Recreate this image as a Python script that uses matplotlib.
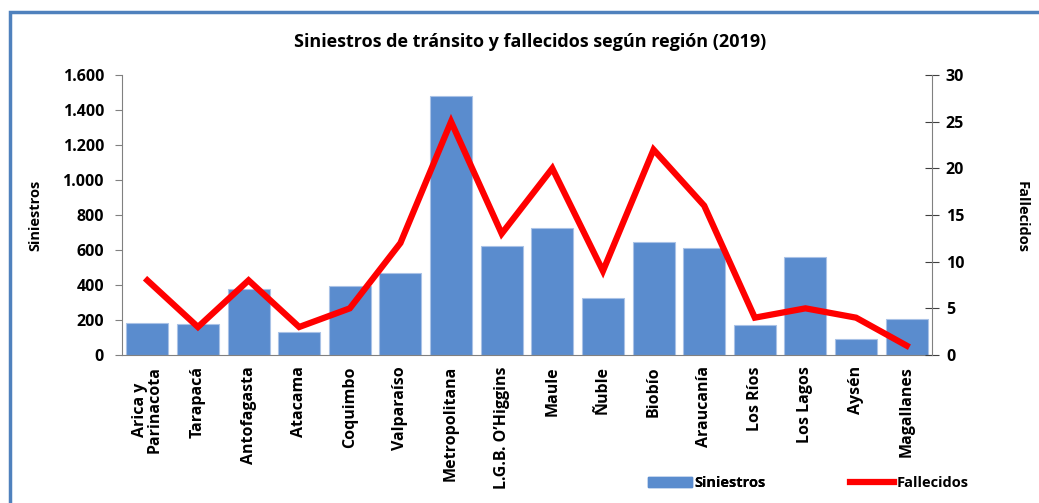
import matplotlib
matplotlib.use('Agg')
import matplotlib.pyplot as plt
from matplotlib.patches import Rectangle
from matplotlib.lines import Line2D
from matplotlib.ticker import FuncFormatter

plt.rcParams['font.family'] = ['Open Sans', 'DejaVu Sans']
plt.rcParams['font.weight'] = 'bold'

# datos
regiones = ['Arica y\nParinacota', 'Tarapacá', 'Antofagasta', 'Atacama', 'Coquimbo',
            'Valparaíso', 'Metropolitana', 'L.G.B. O’Higgins', 'Maule', 'Ñuble',
            'Biobío', 'Araucanía', 'Los Ríos', 'Los Lagos', 'Aysén', 'Magallanes']
siniestros = [183, 177, 375, 131, 397, 468, 1479, 622, 725, 325, 645, 611, 171, 560, 91, 206]
fallecidos = [8, 3, 8, 3, 5, 12, 25, 13, 20, 9, 22, 16, 4, 5, 4, 1]

W, H = 1039, 503
fig = plt.figure(figsize=(W / 100, H / 100), dpi=100)

# marco azul alrededor del grafico
fig.patches.append(Rectangle((10 / W, -0.1), 1.2, 1 - 12 / H + 0.1, transform=fig.transFigure,
                             fill=False, edgecolor='#4f81bd', linewidth=2.5))

ax = fig.add_axes([122 / W, 1 - 355 / H, (932 - 122) / W, (355 - 75) / H])
x = range(len(regiones))
ax.bar(x, siniestros, width=0.83, color='#5a8cce', edgecolor='#a9c2e6', linewidth=0.8,
       label='Siniestros', zorder=2)
ax.set_ylim(0, 1600)
ax.set_xlim(-0.5, len(regiones) - 0.5)
ax.set_yticks(range(0, 1601, 200))
ax.yaxis.set_major_formatter(FuncFormatter(lambda v, p: f'{int(v):,}'.replace(',', '.')))
ax.set_xticks(list(x))
ax.set_xticklabels(regiones, rotation=90, fontsize=11.5, fontweight='bold', linespacing=0.95)
ax.tick_params(axis='x', length=0, pad=8)
ax.tick_params(axis='y', labelsize=11.5, colors='black', direction='out', length=5, color='#808080', pad=8)
for s in ['top', 'right']:
    ax.spines[s].set_visible(False)
for s in ['left', 'bottom']:
    ax.spines[s].set_color('#808080')

ax2 = ax.twinx()
ax2.plot(list(x), fallecidos, color='#ff0000', linewidth=4.5, solid_joinstyle='miter', zorder=3)
ax2.set_ylim(0, 30)
ax2.set_yticks(range(0, 31, 5))
ax2.tick_params(axis='y', labelsize=11.5, direction='inout', length=10, color='#404040', pad=5)
for s in ['top', 'left', 'bottom']:
    ax2.spines[s].set_visible(False)
ax2.spines['right'].set_color('#808080')

fig.text(35 / W, 1 - 215 / H, 'Siniestros', rotation=90, ha='center', va='center',
         fontsize=10.5, fontweight='bold')
fig.text(1022 / W, 1 - 217 / H, 'Fallecidos', rotation=-90, ha='center', va='center',
         fontsize=10.5, fontweight='bold')

fig.text(530 / W, 1 - 42 / H, 'Siniestros de tránsito y fallecidos según región (2019)',
         ha='center', va='center', fontsize=13, fontweight='bold')

# leyenda abajo, dos partes
leg1 = fig.legend([Rectangle((0, 0), 1, 1, color='#5a8cce')], ['Siniestros'], loc='center left',
                  bbox_to_anchor=(635 / W, 1 - 483 / H), frameon=False, handlelength=3.0,
                  handletextpad=0.2, prop={'weight': 'bold', 'size': 10.5})
fig.add_artist(leg1)
fig.legend([Line2D([0], [0], color='#ff0000', linewidth=4.5)], ['Fallecidos'], loc='center left',
           bbox_to_anchor=(837 / W, 1 - 483 / H), frameon=False, handlelength=3.0,
           handletextpad=0.2, prop={'weight': 'bold', 'size': 10.5})

fig.savefig('out.png', dpi=100)
